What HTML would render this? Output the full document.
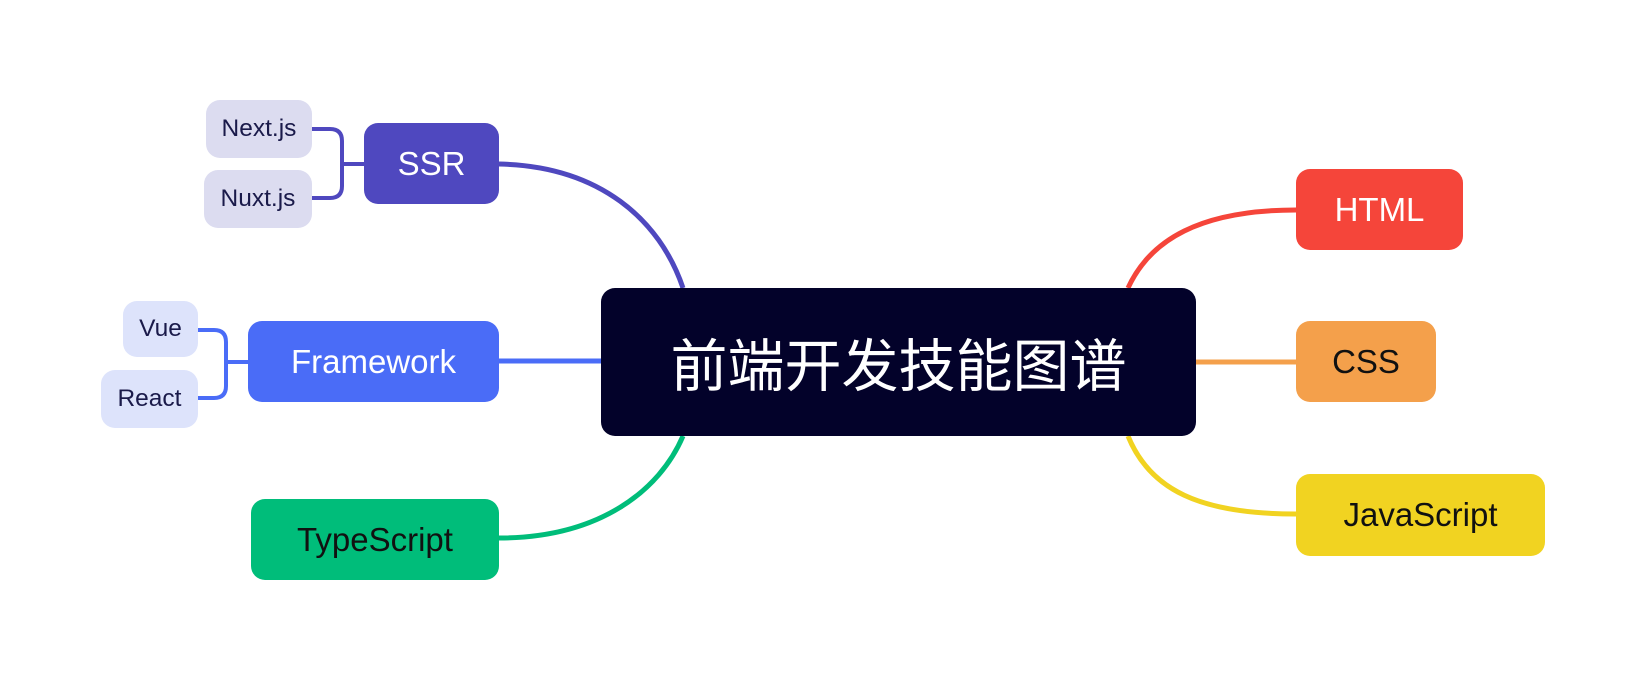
<!DOCTYPE html>
<html><head><meta charset="utf-8"><style>
body{margin:0;width:1638px;height:678px;background:#fff;overflow:hidden;position:relative;font-family:"Liberation Sans","Noto Sans CJK SC",sans-serif}
.n{position:absolute;display:flex;align-items:center;justify-content:center;border-radius:14px;font-size:33px}
.s{position:absolute;display:flex;align-items:center;justify-content:center;border-radius:14px;font-size:24.5px;color:#1a1a4a}
svg{position:absolute;left:0;top:0}
</style></head><body>
<svg width="1638" height="678" fill="none" stroke-width="5">
<path d="M499 164 C600 166 660 220 683 288" stroke="#4f48bf"/>
<path d="M499 361 L601 361" stroke="#4a6cf7"/>
<path d="M499 538 C600 538 660 490 683 436" stroke="#00bd7a"/>
<path d="M1296 210 C1200 210 1150 240 1128 288" stroke="#f5453a"/>
<path d="M1196 362 L1296 362" stroke="#f4a04b"/>
<path d="M1296 514 C1200 514 1150 490 1128 436" stroke="#f1d321"/>
<path d="M312 129 H330 Q342 129 342 141 V186 Q342 198 330 198 H312 M342 164 H364" stroke="#4f48bf" stroke-width="4"/>
<path d="M198 330 H214 Q226 330 226 342 V386 Q226 398 214 398 H198 M226 362 H248" stroke="#4a6cf7" stroke-width="4"/>
</svg>
<div class="n" style="left:601px;top:288px;width:595px;height:148px;background:#03022a;color:#fff;font-size:57px">前端开发技能图谱</div>
<div class="n" style="left:364px;top:123px;width:135px;height:81px;background:#4f48bf;color:#fff">SSR</div>
<div class="n" style="left:248px;top:321px;width:251px;height:81px;background:#4a6cf7;color:#fff">Framework</div>
<div class="n" style="left:251px;top:499px;width:248px;height:81px;background:#00bd7a;color:#111">TypeScript</div>
<div class="n" style="left:1296px;top:169px;width:167px;height:81px;background:#f5453a;color:#fff">HTML</div>
<div class="n" style="left:1296px;top:321px;width:140px;height:81px;background:#f4a04b;color:#111">CSS</div>
<div class="n" style="left:1296px;top:474px;width:249px;height:82px;background:#f1d321;color:#111">JavaScript</div>
<div class="s" style="left:206px;top:100px;width:106px;height:58px;background:#dcdcf0">Next.js</div>
<div class="s" style="left:204px;top:170px;width:108px;height:58px;background:#dcdcf0">Nuxt.js</div>
<div class="s" style="left:123px;top:301px;width:75px;height:56px;background:#dde3fb">Vue</div>
<div class="s" style="left:101px;top:370px;width:97px;height:58px;background:#dde3fb">React</div>
</body></html>
